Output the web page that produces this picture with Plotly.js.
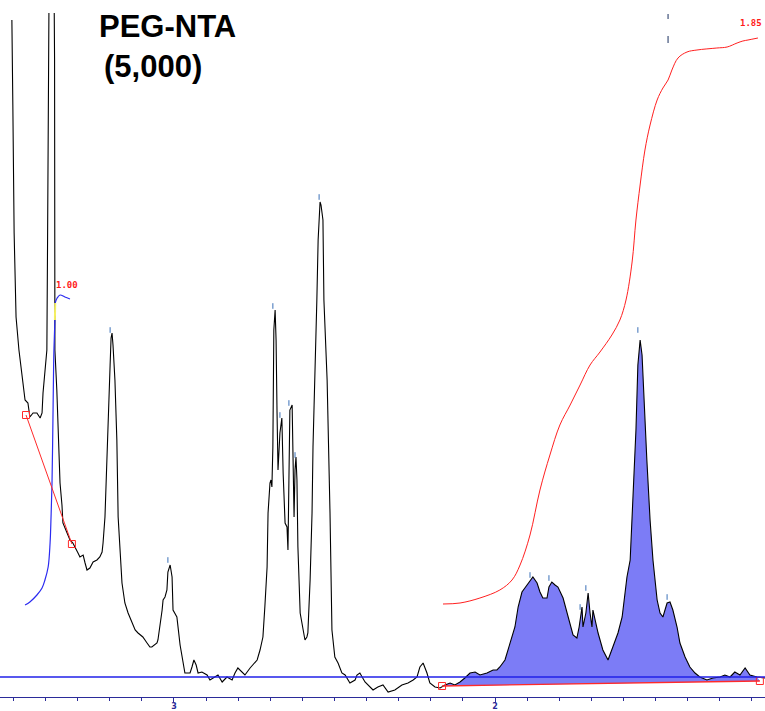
<!DOCTYPE html>
<html>
<head>
<meta charset="utf-8">
<script src="https://cdn.plot.ly/plotly-3.0.1.min.js"></script>
<style>html,body{margin:0;padding:0;background:#fff;}#chart{width:765px;height:711px;}</style>
</head>
<body>
<div id="chart"></div>
<script>
// 1H NMR spectrum, chemical shift (ppm) and intensity (arbitrary units)
var specPpm = [3.505,3.503,3.502,3.498,3.492,3.483,3.474,3.464,3.455,3.449,3.439,3.427,3.417,3.411,3.408,3.402,3.396,3.394,3.392,3.391,3.382,3.372,3.371,3.371,3.371,3.365,3.361,3.355,3.349,3.346,3.333,3.324,3.315,3.302,3.299,3.293,3.283,3.277,3.271,3.262,3.252,3.240,3.231,3.224,3.221,3.215,3.209,3.206,3.202,3.199,3.196,3.193,3.190,3.184,3.178,3.174,3.162,3.153,3.143,3.131,3.121,3.112,3.097,3.084,3.075,3.069,3.059,3.053,3.050,3.044,3.037,3.034,3.028,3.022,3.019,3.012,3.006,3.003,2.997,2.991,2.981,2.972,2.966,2.956,2.950,2.944,2.938,2.931,2.925,2.913,2.897,2.888,2.872,2.863,2.850,2.835,2.819,2.810,2.801,2.788,2.779,2.763,2.754,2.741,2.732,2.723,2.717,2.710,2.707,2.701,2.698,2.695,2.692,2.690,2.689,2.685,2.682,2.679,2.676,2.670,2.664,2.660,2.654,2.648,2.645,2.642,2.639,2.632,2.629,2.626,2.623,2.620,2.617,2.614,2.607,2.598,2.592,2.586,2.583,2.576,2.570,2.567,2.561,2.555,2.551,2.548,2.545,2.542,2.536,2.533,2.523,2.514,2.508,2.499,2.489,2.477,2.467,2.452,2.436,2.430,2.421,2.405,2.396,2.380,2.365,2.349,2.333,2.312,2.290,2.271,2.255,2.243,2.234,2.224,2.212,2.203,2.187,2.171,2.156,2.140,2.125,2.109,2.094,2.078,2.062,2.047,2.025,2.006,1.994,1.985,1.969,1.960,1.947,1.938,1.928,1.916,1.907,1.900,1.891,1.882,1.869,1.860,1.851,1.838,1.832,1.823,1.813,1.804,1.788,1.773,1.757,1.745,1.738,1.729,1.726,1.717,1.710,1.704,1.698,1.695,1.679,1.664,1.648,1.633,1.617,1.604,1.598,1.589,1.579,1.570,1.561,1.555,1.548,1.542,1.536,1.527,1.517,1.508,1.495,1.486,1.477,1.464,1.455,1.446,1.433,1.424,1.408,1.393,1.377,1.362,1.340,1.321,1.299,1.284,1.268,1.253,1.237,1.221,1.206,1.184,1.159];
var specInt = [657,617,572,444,360,327,304,277,274,260,264,264,259,264,284,307,327,427,527,617,1077,617,527,427,327,287,244,194,172,154,144,137,134,127,124,120,122,114,107,109,115,117,120,125,134,160,210,247,277,312,339,344,332,297,237,160,94,74,64,54,47,44,40,34,30,30,32,34,37,50,67,77,80,87,105,112,100,67,64,60,32,14,4,4,4,10,17,12,4,5,2,-3,0,2,-5,0,-3,4,9,5,2,9,12,17,27,40,70,110,164,194,197,190,230,297,347,367,337,264,207,244,259,204,154,150,127,197,267,272,200,160,207,220,197,130,64,47,37,40,44,97,164,230,297,377,437,465,475,472,457,377,297,164,47,20,14,4,2,-6,-3,2,4,-5,-8,-13,-10,-8,-15,-13,-8,-6,-3,0,10,14,4,-6,-10,-11,-8,-6,-8,-5,-1,4,5,2,4,7,7,10,17,27,39,50,70,85,89,92,97,100,94,85,79,79,90,95,92,90,79,60,42,39,50,70,50,64,84,64,50,67,44,27,17,30,44,60,77,100,117,177,247,312,337,322,277,217,157,117,77,64,60,74,75,67,50,34,20,10,4,0,-3,-1,0,2,0,5,2,9,2,0,-1,-1];

// integrated region (right) and its integral curve
var regionPpm = [2.165, 1.175];
var regionBase = [-9, -4];
var intRightPpm = [2.162,2.109,2.047,1.985,1.947,1.922,1.891,1.860,1.829,1.798,1.766,1.735,1.704,1.673,1.636,1.611,1.592,1.573,1.561,1.548,1.533,1.517,1.495,1.477,1.461,1.449,1.430,1.402,1.371,1.309,1.277,1.246,1.228,1.212,1.181];
var intRightVal = [73,74,79,87,97,112,142,187,222,252,272,292,312,325,342,357,377,415,457,492,527,552,577,589,597,607,619,625,627,629,630,634,636,637,639];
var intRightLabel = "1.85";

// reference integral (left)
var intLeftPpm = [3.464,3.449,3.427,3.411,3.402,3.392,3.386,3.383,3.380,3.377,3.375,3.374,3.371,3.370,3.364,3.355,3.340,3.324];
var intLeftVal = [72,75,82,89,97,110,134,160,194,260,310,327,357,374,379,382,380,378];
var intLeftLabel = "1.00";
var leftBasePpm = [3.461, 3.318];
var leftBaseVal = [262, 133];

// picked peaks
var peakPpm = [3.199,3.019,2.692,2.670,2.642,2.623,2.548,1.891,1.832,1.735,1.717,1.555,1.464];
var peakMark = [347,117,371,262,274,222,480,102,99,70,89,347,80];

// axis ticks
var tickVals = [3, 2];
var tickText = ["3", "2"];
var titleLine1 = "PEG-NTA";
var titleLine2 = "(5,000)";

var fillPpm = [], fillInt = [];
for (var i = 0; i < specPpm.length; i++) {
  if (specPpm[i] <= regionPpm[0] && specPpm[i] >= regionPpm[1]) { fillPpm.push(specPpm[i]); fillInt.push(specInt[i]); }
}

var traces = [
  {x: regionPpm, y: regionBase, mode: 'lines', line: {width: 0, color: 'rgba(0,0,0,0)'}, hoverinfo: 'skip', showlegend: false},
  {x: fillPpm, y: fillInt, mode: 'lines', fill: 'tonexty', fillcolor: 'rgb(124,124,246)', line: {width: 0, color: 'rgba(0,0,0,0)'}, hoverinfo: 'skip', showlegend: false},
  {x: specPpm, y: specInt, mode: 'lines', line: {color: '#000000', width: 1.1}, showlegend: false},
  {x: regionPpm, y: regionBase, mode: 'lines+markers', line: {color: '#ff2a2a', width: 1.3}, marker: {symbol: 'square-open', size: 7, color: '#ff2a2a', line: {width: 1}}, showlegend: false},
  {x: intRightPpm, y: intRightVal, mode: 'lines', line: {color: '#ff2020', width: 1, shape: 'spline'}, showlegend: false},
  {x: intLeftPpm, y: intLeftVal, mode: 'lines', line: {color: '#2a2af0', width: 1.2, shape: 'spline'}, showlegend: false},
  {x: [intLeftPpm[12], intLeftPpm[13]], y: [intLeftVal[12], intLeftVal[13]], mode: 'lines', line: {color: '#f5f060', width: 2}, showlegend: false},
  {x: leftBasePpm, y: leftBaseVal, mode: 'lines+markers', line: {color: '#ff2a2a', width: 1}, marker: {symbol: 'square-open', size: 7, color: '#ff2a2a', line: {width: 1}}, showlegend: false},
  {x: peakPpm, y: peakMark, mode: 'markers', marker: {symbol: 'line-ns-open', size: 4, color: '#3a70b8', line: {width: 1, color: '#3a70b8'}}, showlegend: false},
  {x: [1.461, 1.461, null, 1.461, 1.461], y: [663, 658, null, 641, 634], mode: 'lines', line: {color: '#1a3060', width: 1}, showlegend: false}
];

var layout = {
  width: 765, height: 711,
  margin: {l: 0, r: 0, t: 13, b: 14, pad: 0},
  paper_bgcolor: '#ffffff', plot_bgcolor: '#ffffff',
  showlegend: false,
  xaxis: {
    range: [3.542, 1.159], showgrid: false, zeroline: false,
    showline: true, linecolor: '#2b2b99', linewidth: 1,
    ticks: 'outside', ticklen: 5, tickcolor: '#2b2b99', tickwidth: 1,
    tickmode: 'array', tickvals: tickVals, ticktext: tickText,
    ticklabelstandoff: -4,
    tickfont: {family: 'DejaVu Sans', size: 8, color: '#2b2b99', weight: 'bold'},
    minor: {ticks: 'outside', ticklen: 3, dtick: 0.1, tick0: 0, tickcolor: '#2b2b99', tickwidth: 1, showgrid: false}
  },
  yaxis: {range: [-20, 664], visible: false, showgrid: false, zeroline: false},
  shapes: [
    {type: 'line', xref: 'paper', x0: 0, x1: 1, yref: 'y', y0: 0, y1: 0, line: {color: '#2020e8', width: 1.3}, layer: 'above'}
  ],
  annotations: [
    {xref: 'paper', yref: 'paper', x: 97/765, y: 0.9803, xanchor: 'left', yanchor: 'middle', showarrow: false,
     text: '<b>' + titleLine1 + '</b>', font: {family: 'Liberation Sans, Arial', size: 31, color: '#000'}},
    {xref: 'paper', yref: 'paper', x: 102/765, y: 0.9218, xanchor: 'left', yanchor: 'middle', showarrow: false,
     text: '<b>' + titleLine2 + '</b>', font: {family: 'Liberation Sans, Arial', size: 31, color: '#000'}},
    {xref: 'paper', yref: 'y', x: 0.999, y: 654, xanchor: 'right', yanchor: 'middle', showarrow: false,
     text: '<b>' + intRightLabel + '</b>', font: {family: 'DejaVu Sans Mono', size: 9, color: '#ff1a1a'}},
    {xref: 'x', yref: 'y', x: 3.333, y: 392, xanchor: 'center', yanchor: 'middle', showarrow: false,
     text: '<b>' + intLeftLabel + '</b>', font: {family: 'DejaVu Sans Mono', size: 9, color: '#ff1a1a'}}
  ]
};

Plotly.newPlot('chart', traces, layout, {staticPlot: true, displayModeBar: false});
</script>
</body>
</html>
